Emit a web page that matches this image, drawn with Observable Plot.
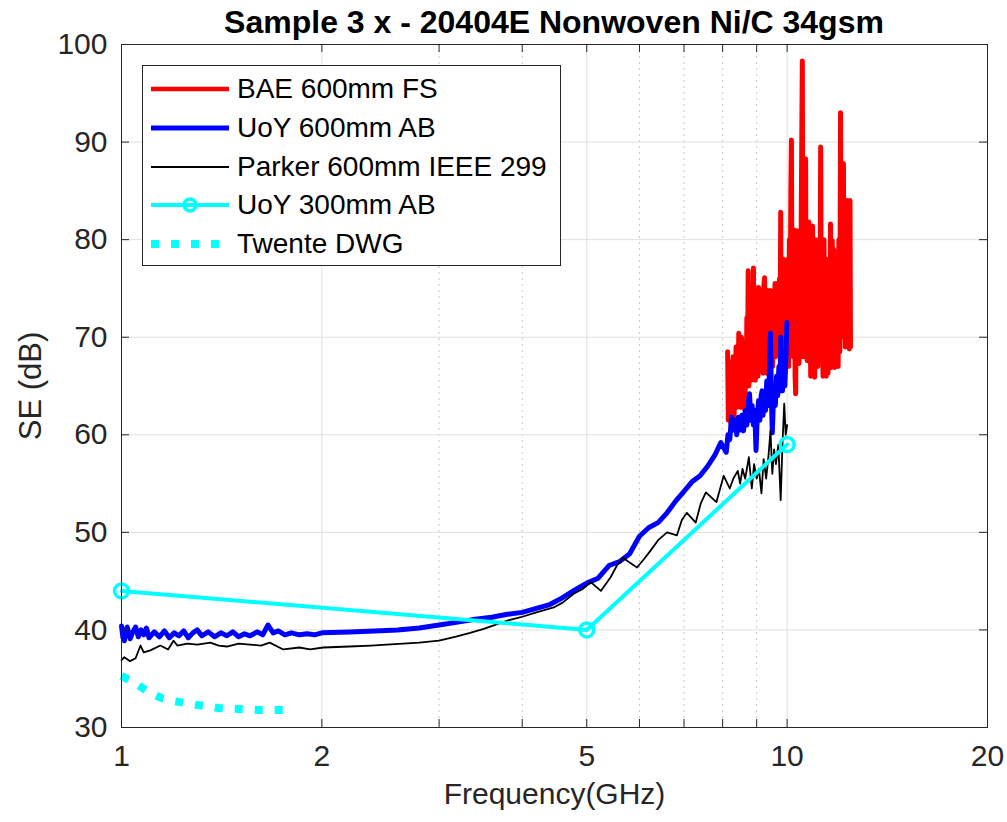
<!DOCTYPE html>
<html>
<head>
<meta charset="utf-8">
<script src="https://cdn.jsdelivr.net/npm/d3@7"></script>
<script src="https://cdn.jsdelivr.net/npm/@observablehq/plot@0.6"></script>
<style>
  body { margin: 0; background: #fff; font-family: "Liberation Sans", Arial, sans-serif; }
  #wrap { position: relative; width: 1007px; height: 822px; background: #fff; }
  #title { position: absolute; z-index: 2; left: 121px; top: 0; width: 866px; height: 44px; line-height: 44px;
           text-align: center; font-weight: bold; font-size: 32px; color: #000; white-space: nowrap; }
  #chart { position: absolute; z-index: 1; left: 0; top: 30px; }
  #legend { position: absolute; z-index: 3; left: 142px; top: 65px; width: 419px; height: 201px; box-sizing: border-box;
            border: 1px solid #262626; background: #fff; }
  .row { position: absolute; left: 0; height: 38px; width: 100%; }
  .row svg { position: absolute; left: 7px; top: 0; }
  .row span { position: absolute; left: 94px; top: 0; line-height: 38px; font-size: 28px; color: #000; white-space: nowrap; }
</style>
</head>
<body>
<div id="wrap">
  <div id="chart"></div>
  <div id="title"></div>
  <div id="legend"></div>
</div>
<script>
// ---- Data ----
const titleText = "Sample 3 x - 20404E Nonwoven Ni/C 34gsm";
const xLabel = "Frequency(GHz)";
const yLabel = "SE (dB)";
const xTickValues = [1, 2, 5, 10, 20];
const xMinorValues = [3, 4, 6, 7, 8, 9];
const yTickValues = [30, 40, 50, 60, 70, 80, 90, 100];
const seriesNames = ["BAE 600mm FS", "UoY 600mm AB", "Parker 600mm IEEE 299", "UoY 300mm AB", "Twente DWG"];

// BAE 600mm FS
const baeFreq = [8.14,8.16,8.18,8.2,8.22,8.24,8.26,8.28,8.30,8.32,8.34,8.36,8.38,8.40,8.42,8.44,8.46,8.48,8.50,8.52,8.54,8.56,8.58,8.60,8.62,8.64,8.66,8.68,8.70,8.72,8.74,8.76,8.78,8.80,8.82,8.84,8.86,8.88,8.90,8.92,8.94,8.96,8.98,9.00,9.02,9.04,9.06,9.08,9.10,9.12,9.14,9.16,9.18,9.20,9.22,9.25,9.27,9.30,9.32,9.35,9.37,9.40,9.42,9.44,9.46,9.49,9.51,9.54,9.56,9.59,9.61,9.64,9.66,9.69,9.71,9.74,9.76,9.78,9.80,9.83,9.85,9.88,9.90,9.93,9.95,9.98,10.00,10.03,10.05,10.08,10.10,10.13,10.15,10.17,10.20,10.22,10.25,10.28,10.30,10.32,10.35,10.37,10.40,10.42,10.45,10.48,10.50,10.54,10.56,10.58,10.60,10.63,10.66,10.68,10.70,10.72,10.75,10.78,10.80,10.82,10.85,10.88,10.90,10.92,10.95,10.98,11.00,11.03,11.06,11.09,11.12,11.16,11.20,11.23,11.26,11.29,11.32,11.36,11.39,11.42,11.45,11.48,11.52,11.56,11.59,11.62,11.65,11.69,11.72,11.75,11.79,11.82,11.86,11.90,11.93,11.96,12.00,12.03,12.06,12.09,12.12,12.15,12.18,12.20,12.23,12.26,12.29,12.31,12.34,12.37,12.40,12.43,12.45];
const baeSE = [68.5,61.5,67,62,66,61,67.5,62.5,68,60.7,66,63,69,62.8,68.5,64,70.4,63,69,62.8,70,64.5,68,63,69.5,62.5,67.5,65,72,66,76.8,65,74,66,73,65.6,75,67,77.1,66,73,65.6,72,67,75,66,75.1,67.6,73,66.5,72,67.6,74.5,66.3,75,76.1,67,73,66.3,74.8,67,72,66.3,74.8,68.3,73,67,74,68.3,75.5,68,75.5,69,73,68.3,76,69,82.8,68,77,69,78,68,77.6,70,76,68,78,67,80,69,85,90.2,70,80,68,81,66,64.2,76,80.9,69,78,67.3,80,68,82,98.3,70,80,68,79,88.3,69,80,67.6,78,81.8,68,77,66,80,67,81.4,68,78,65.9,80,68,77,67,80,68,89.5,69,79,66,80,67,78,66,76,66.3,78,67,81.6,66.9,79.9,67,79,66.9,78,68,76,67,80,68.5,93,71,82,70.4,87.8,70,84,69,84,70.4,84,69,83,68.8,84,69];

// UoY 600mm AB
const uoy600Freq = [1.0,1.005,1.01,1.015,1.02,1.03,1.04,1.05,1.06,1.07,1.08,1.09,1.1,1.12,1.14,1.16,1.18,1.2,1.22,1.24,1.26,1.28,1.3,1.32,1.35,1.38,1.41,1.44,1.47,1.5,1.53,1.56,1.6,1.63,1.66,1.69,1.72,1.76,1.8,1.85,1.9,1.95,2.0,2.2,2.4,2.6,2.8,3.0,3.2,3.4,3.6,3.8,4.0,4.2,4.4,4.6,4.8,5.0,5.2,5.4,5.6,5.8,6.0,6.2,6.4,6.6,6.8,7.0,7.2,7.4,7.6,7.8,7.95,8.1,8.15,8.2,8.25,8.3,8.35,8.4,8.45,8.5,8.55,8.6,8.65,8.7,8.75,8.78,8.82,8.86,8.9,8.94,8.98,9.02,9.06,9.1,9.14,9.17,9.2,9.24,9.28,9.32,9.36,9.4,9.44,9.47,9.5,9.53,9.56,9.6,9.64,9.68,9.72,9.76,9.78,9.8,9.84,9.88,9.92,9.96,9.99];
const uoy600SE = [40.4,39.2,38.9,40.0,40.3,39.1,39.8,40.3,39.3,40.0,39.5,40.2,39.2,39.8,39.3,39.9,39.2,39.7,39.4,39.9,39.2,39.7,40.0,39.4,39.8,39.3,39.7,39.4,39.8,39.3,39.6,39.4,39.8,39.5,40.5,39.7,39.9,39.5,39.7,39.5,39.6,39.5,39.7,39.8,39.9,40.0,40.2,40.5,40.8,41.1,41.3,41.6,41.8,42.2,42.6,43.3,44.1,44.8,45.3,46.6,47.0,47.8,49.6,50.5,51.0,52.0,53.2,54.2,55.2,55.8,56.8,58.0,59.2,58.2,60.0,59.5,61.8,60.5,61.5,60.0,61.8,60.5,62.0,60.4,62.5,61.0,63.5,64.2,61.5,63.0,61.0,62.5,58.4,62.0,63.5,61.5,64.0,64.5,62.0,64.0,62.5,65.5,63.0,66.0,70.4,64.0,60.2,63.0,64.5,63.0,66.0,64.0,67.0,64.5,70.0,66.0,64.5,67.0,65.0,68.0,71.5];

// Parker 600mm IEEE 299
const parkerFreq = [1.0,1.01,1.03,1.05,1.068,1.08,1.105,1.144,1.175,1.197,1.213,1.256,1.3,1.36,1.4,1.44,1.5,1.56,1.62,1.67,1.75,1.85,1.92,2.01,2.2,2.37,2.5,2.65,2.8,3.0,3.17,3.34,3.5,3.67,3.82,3.98,4.2,4.46,4.6,4.78,4.93,5.07,5.25,5.43,5.55,5.67,5.8,5.95,6.1,6.23,6.4,6.6,6.83,6.95,7.07,7.29,7.42,7.55,7.83,8.03,8.2,8.3,8.43,8.5,8.57,8.65,8.76,8.85,8.92,9.0,9.07,9.15,9.22,9.3,9.38,9.44,9.5,9.56,9.62,9.7,9.78,9.84,9.9,9.95,10.0];
const parkerSE = [36.9,37.2,36.8,37.1,38.4,37.7,37.9,38.4,38.0,38.9,38.4,38.6,38.5,38.7,38.4,38.3,38.6,38.5,38.4,38.7,38.0,38.2,38.0,38.2,38.3,38.4,38.5,38.6,38.7,38.9,39.3,39.7,40.1,40.6,41.0,41.3,41.8,42.3,42.8,43.7,44.2,44.9,44.0,45.4,46.6,47.4,46.9,46.4,47.3,48.1,49.2,50.0,49.7,51.3,52.0,51.0,53.0,54.1,53.1,55.8,54.5,55.5,56.3,55.0,56.5,55.5,57.7,54.5,57.0,55.5,56.5,54.0,57.5,55.5,58.0,60.4,56.0,58.5,57.0,59.0,53.3,59.0,63.2,60.0,61.0];

// UoY 300mm AB
const uoy300Freq = [1, 5, 10];
const uoy300SE = [44, 40, 59];

// Twente DWG
const twenteFreq = [1.0,1.05,1.1,1.15,1.2,1.3,1.4,1.5,1.6,1.75];
const twenteSE = [35.3,34.5,33.6,33.0,32.7,32.3,32.0,31.9,31.8,31.8];

const colors = ["#ff0000", "#0000ff", "#000000", "#00ffff", "#00ffff"];

// ---- Build tables ----
const zipT = (f, v) => f.map((x, i) => ({f: x, v: v[i]}));
const bae = zipT(baeFreq, baeSE);
const uoy600 = zipT(uoy600Freq, uoy600SE);
const parker = zipT(parkerFreq, parkerSE);
const uoy300 = zipT(uoy300Freq, uoy300SE);
const twente = zipT(twenteFreq, twenteSE);

const W = 1007, H = 792, mL = 121, mR = 20, mT = 14, mB = 95;
const fw = W - mL - mR, fh = H - mT - mB;
const axisColor = "#262626";
const tickLen = 8;
const allXTicks = xTickValues.concat(xMinorValues);

const chart = Plot.plot({
  width: W, height: H,
  marginLeft: mL, marginRight: mR, marginTop: mT, marginBottom: mB,
  x: {type: "log", domain: [1, 20], axis: null},
  y: {domain: [30, 100], axis: null},
  style: {fontFamily: "'Liberation Sans', Arial, sans-serif", background: "transparent", overflow: "visible", color: axisColor},
  marks: [
    Plot.ruleX(xMinorValues, {stroke: "#c8c8c8", strokeDasharray: "2,4"}),
    Plot.ruleX(xTickValues.slice(1, -1), {stroke: "#e0e0e0"}),
    Plot.ruleY(yTickValues.slice(1, -1), {stroke: "#e0e0e0"}),
    Plot.line(bae, {x: "f", y: "v", stroke: colors[0], strokeWidth: 5}),
    Plot.line(uoy600, {x: "f", y: "v", stroke: colors[1], strokeWidth: 5}),
    Plot.line(parker, {x: "f", y: "v", stroke: colors[2], strokeWidth: 1.8}),
    Plot.line(uoy300, {x: "f", y: "v", stroke: colors[3], strokeWidth: 4}),
    Plot.dot(uoy300, {x: "f", y: "v", r: 7, stroke: colors[3], strokeWidth: 3.5, fill: "none"}),
    Plot.line(twente, {x: "f", y: "v", stroke: colors[4], strokeWidth: 8, strokeDasharray: "8,12", strokeLinecap: "butt"}),
    Plot.frame({stroke: axisColor}),
    Plot.ruleX(allXTicks, {stroke: axisColor, insetTop: fh - tickLen}),
    Plot.ruleX(allXTicks, {stroke: axisColor, insetBottom: fh - tickLen}),
    Plot.ruleY(yTickValues, {stroke: axisColor, insetRight: fw - tickLen}),
    Plot.ruleY(yTickValues, {stroke: axisColor, insetLeft: fw - tickLen}),
    Plot.text(xTickValues, {x: d => d, frameAnchor: "bottom", dy: 38, fontSize: 30, fill: axisColor}),
    Plot.text(yTickValues, {y: d => d, frameAnchor: "left", dx: -14, textAnchor: "end", fontSize: 30, fill: axisColor}),
    Plot.text([xLabel], {frameAnchor: "bottom", dy: 76, fontSize: 30, fill: axisColor}),
    Plot.text([yLabel], {frameAnchor: "left", dx: -90, rotate: -90, textAnchor: "middle", fontSize: 31, fill: axisColor})
  ]
});
document.getElementById("chart").appendChild(chart);
document.getElementById("title").textContent = titleText;

// ---- Legend ----
const legend = document.getElementById("legend");
const swatches = [
  `<line x1="1" y1="19" x2="79" y2="19" stroke="${colors[0]}" stroke-width="4.5"/>`,
  `<line x1="1" y1="19" x2="79" y2="19" stroke="${colors[1]}" stroke-width="5"/>`,
  `<line x1="1" y1="19" x2="79" y2="19" stroke="${colors[2]}" stroke-width="1.8"/>`,
  `<line x1="1" y1="19" x2="79" y2="19" stroke="${colors[3]}" stroke-width="4"/><circle cx="40" cy="19" r="6" fill="none" stroke="${colors[3]}" stroke-width="3.5"/>`,
  `<line x1="1" y1="19" x2="79" y2="19" stroke="${colors[4]}" stroke-width="8" stroke-dasharray="8,12"/>`
];
seriesNames.forEach((name, i) => {
  const row = document.createElement("div");
  row.className = "row";
  row.style.top = (4 + i * 38.8) + "px";
  row.innerHTML = `<svg width="82" height="38">${swatches[i]}</svg><span></span>`;
  row.querySelector("span").textContent = name;
  legend.appendChild(row);
});
</script>
</body>
</html>
